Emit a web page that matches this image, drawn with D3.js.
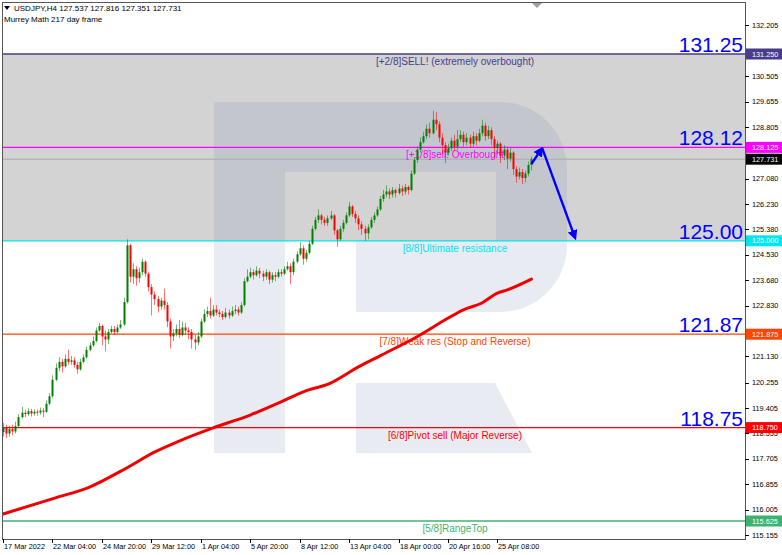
<!DOCTYPE html>
<html><head><meta charset="utf-8">
<script src="https://cdn.jsdelivr.net/npm/d3@7/dist/d3.min.js"></script>
<style>html,body{margin:0;padding:0;background:#fff;}svg{display:block;font-family:"Liberation Sans",Arial,sans-serif;}</style>
</head><body>
<script>
// ---------- DATA ----------
const symbolTitle = "USDJPY,H4  127.537 127.816 127.351 127.731";
const indicatorTitle = "Murrey Math 217 day frame";
const firstOpen = 118.60;
const closes = [118.75,118.55,118.70,118.62,118.80,119.10,119.25,119.20,119.30,119.22,
119.28,119.25,119.32,119.28,119.55,119.80,120.35,120.75,120.95,120.80,
121.05,120.95,121.00,120.85,120.70,120.95,121.10,121.35,121.50,121.65,
122.00,122.15,121.80,121.70,121.95,122.05,121.95,122.10,122.20,122.95,
124.85,123.80,124.05,123.75,123.95,124.30,123.90,123.45,123.20,123.05,
122.80,123.00,122.85,122.30,121.80,121.90,122.05,121.85,122.10,122.00,
121.95,121.70,121.60,121.80,122.30,122.55,122.65,122.50,122.70,122.60,
122.55,122.45,122.60,122.50,122.65,122.70,122.60,122.85,123.65,123.80,
123.95,123.85,124.00,123.90,123.80,123.95,123.70,123.85,123.80,123.95,
123.90,124.05,124.15,123.95,124.30,124.55,124.75,124.40,124.60,124.90,
125.40,125.70,125.85,125.70,125.60,125.75,125.85,125.35,125.05,125.40,
125.60,125.85,126.15,125.90,125.75,125.55,125.40,125.25,125.45,125.70,
125.85,126.05,126.40,126.55,126.65,126.55,126.70,126.60,126.75,126.65,
126.80,126.70,127.25,127.70,128.05,128.30,128.50,128.75,128.60,129.05,
128.90,128.45,128.20,127.95,128.10,128.35,128.15,128.40,128.55,128.30,
128.45,128.25,128.50,128.35,128.60,128.85,128.50,128.70,128.40,128.10,
128.25,127.85,128.05,127.75,127.95,127.40,127.15,127.30,127.10,127.25,
127.537,127.731];
const highs = [118.90,118.85,118.80,118.85,118.95,119.20,119.45,119.35,119.40,119.38,
119.36,119.35,119.42,119.40,119.65,119.90,120.50,120.90,121.10,121.05,
121.20,121.35,121.15,121.10,120.95,121.05,121.20,121.45,121.60,121.80,
122.10,122.25,122.20,122.00,122.05,122.15,122.15,122.20,122.35,123.10,
125.05,124.90,124.25,124.15,124.10,124.40,124.35,123.95,123.55,123.30,
123.15,123.10,123.40,122.95,122.40,122.05,122.20,122.35,122.30,122.25,
122.10,122.05,121.85,121.95,122.40,122.70,122.80,123.10,122.85,122.85,
122.70,122.65,122.75,122.70,122.80,122.85,122.80,122.95,123.75,124.05,
124.10,124.05,124.15,124.10,124.00,124.05,124.00,123.95,123.95,124.05,
124.05,124.15,124.30,124.25,124.40,124.65,124.95,124.85,124.70,125.00,
125.50,125.80,126.05,125.90,125.80,125.85,126.00,125.90,125.40,125.50,
125.70,125.95,126.30,126.20,126.00,125.85,125.65,125.50,125.55,125.80,
125.95,126.15,126.50,126.70,126.85,126.75,126.80,126.75,126.90,126.85,
126.90,126.85,127.35,127.80,128.15,128.45,128.65,128.90,128.95,129.35,
129.30,129.00,128.60,128.30,128.25,128.45,128.55,128.70,128.70,128.65,
128.60,128.55,128.65,128.60,128.75,129.05,128.95,128.85,128.80,128.50,
128.35,128.30,128.20,128.15,128.10,128.00,127.50,127.45,127.40,127.35,
127.65,127.816];
const lows = [118.45,118.40,118.45,118.50,118.55,118.75,119.05,119.10,119.15,119.12,
119.15,119.15,119.18,119.10,119.25,119.50,119.75,120.30,120.65,120.60,
120.75,120.85,120.85,120.75,120.55,120.65,120.90,121.05,121.30,121.45,
121.60,121.95,121.50,121.30,121.55,121.90,121.85,121.90,122.05,122.15,
122.90,123.60,123.55,123.50,123.60,123.85,123.80,123.30,122.50,122.85,
122.60,122.70,122.70,122.10,121.40,121.65,121.80,121.75,121.80,121.85,
121.70,121.40,121.35,121.50,121.75,122.25,122.45,122.40,122.45,122.50,
122.45,122.35,122.40,122.40,122.45,122.55,122.50,122.55,122.80,123.60,
123.75,123.70,123.80,123.75,123.65,123.70,123.55,123.60,123.65,123.75,
123.80,123.85,124.00,123.55,123.85,124.25,124.50,124.20,124.30,124.55,
124.85,125.35,125.60,125.55,125.50,125.50,125.70,125.20,124.80,125.00,
125.30,125.55,125.80,125.80,125.60,125.35,125.20,125.00,125.05,125.40,
125.60,125.80,126.00,126.30,126.45,126.40,126.45,126.45,126.55,126.50,
126.55,126.55,126.65,127.20,127.60,127.95,128.25,128.40,128.45,128.55,
128.70,128.30,127.90,127.60,127.85,128.00,128.00,128.05,128.30,128.15,
128.20,128.10,128.15,128.20,128.30,128.50,128.35,128.40,128.20,127.80,
127.90,127.60,127.70,127.40,127.65,127.20,126.95,127.05,126.90,126.95,
127.15,127.351];
// 217-day moving average, sampled at bar indices
const maBars   = [0,17,28,40,49,57,68,80,90,97,106,115,122,135,143,149,155,160,163,171];
const maValues = [115.86,116.40,116.76,117.40,117.93,118.30,118.74,119.17,119.61,119.94,
120.24,120.78,121.15,121.85,122.35,122.69,122.92,123.25,123.35,123.72];
// Murrey Math levels
const levelValues = [131.25,128.125,125.00,121.875,118.75,115.625];
const levelNames  = ["[+2/8]SELL! (extremely overbought)","[+1/8]sell! Overbought","[8/8]Ultimate resistance",
                     "[7/8]Weak res (Stop and Reverse)","[6/8]Pivot sell (Major Reverse)","[5/8]RangeTop"];
const levelBoxes  = ["131.250","128.125","125.000","121.875","118.750","115.625"];
const levelBig    = ["131.25","128.12","125.00","121.87","118.75",null];
const levelColors = ["#483D8B","#FF00FF","#00E5EE","#FF4500","#FF0000","#3CB371"];
const lastPrice = 127.731;
const yTicks = [132.205,130.505,129.655,128.805,127.080,126.230,125.380,124.530,
                123.680,122.830,121.130,120.255,119.405,118.555,117.705,116.855,116.005,115.155];
const xTickBars = [0,16,32,48,64,80,96,112,128,144,160];
const xTickLabels = ["17 Mar 2022","22 Mar 04:00","24 Mar 20:00","29 Mar 12:00","1 Apr 04:00","5 Apr 20:00",
                     "8 Apr 12:00","13 Apr 04:00","18 Apr 00:00","20 Apr 16:00","25 Apr 08:00"];
// forecast arrow (bar index, price)
const arrowUpBars = [171, 174.5], arrowUpPrices = [127.57, 128.10];
const arrowDownBars = [174.5, 185.2], arrowDownPrices = [128.10, 125.08];

// ---------- DRAW ----------
const W = 782, H = 555;
const L = 2, R = 745, T = 2, B = 539;
const svg = d3.select("body").append("svg").attr("width", W).attr("height", H);
const x = d3.scaleLinear().domain([0, 240]).range([3, 3 + 240 * 3.09]);
const y = d3.scaleLinear().domain([115.625, 131.25]).range([521, 54]);

svg.append("defs").append("clipPath").attr("id","clip")
  .append("rect").attr("x",L).attr("y",T).attr("width",R-L).attr("height",B-T);
const g = svg.append("g").attr("clip-path","url(#clip)");

// overbought zone
g.append("rect").attr("x",L).attr("width",R-L)
  .attr("y",y(levelValues[0])).attr("height",y(levelValues[2])-y(levelValues[0]))
  .attr("fill","#D3D3D3");

// watermark "R"
const wm = "M214,102 H500 A67,67 0 0 1 567,169 V245 A67,67 0 0 1 500,312 H356 V240 H496 V172 H285 V453 H214 Z " +
           "M356,383 H495 L532,453 H356 Z";
g.append("path").attr("d", wm).attr("fill","rgba(110,135,175,0.16)");

// last price line
g.append("line").attr("x1",L).attr("x2",R).attr("y1",y(lastPrice)).attr("y2",y(lastPrice))
  .attr("stroke","#A8A8A8").attr("stroke-width",1);

// level lines
levelValues.forEach((v,i)=>{
  g.append("line").attr("x1",L).attr("x2",R).attr("y1",y(v)).attr("y2",y(v))
    .attr("stroke",levelColors[i]).attr("stroke-width",1.3);
  g.append("text").attr("x",455).attr("y",y(v)+11).attr("text-anchor","middle")
    .attr("font-size",10).attr("fill",levelColors[i]).text(levelNames[i]);
  if (levelBig[i]) g.append("text").attr("x",743).attr("y",y(v)-2).attr("text-anchor","end")
    .attr("font-size",21).attr("fill","#0000FF").text(levelBig[i]);
});

// MA line
const maData = maBars.map((b,i)=>[b,maValues[i]]);
g.append("path").datum(maData)
  .attr("d", d3.line().x(d=>x(d[0])).y(d=>y(d[1])).curve(d3.curveMonotoneX))
  .attr("fill","none").attr("stroke","#F00000").attr("stroke-width",3).attr("stroke-linecap","round");

// candles
const candles = closes.map((c,i)=>({i, o: i===0 ? firstOpen : closes[i-1], h: highs[i], l: lows[i], c}));
const cg = g.append("g");
candles.forEach(d=>{
  const up = d.c >= d.o;
  const col = up ? "#008000" : "#FF0000";
  const cx = Math.round(x(d.i)) + 0.5;
  cg.append("line").attr("x1",cx).attr("x2",cx).attr("y1",y(d.h)).attr("y2",y(d.l))
    .attr("stroke",col).attr("stroke-opacity",0.55).attr("stroke-width",1);
  const top = y(Math.max(d.o,d.c)), bot = y(Math.min(d.o,d.c));
  cg.append("rect").attr("x",cx-1).attr("width",2).attr("y",top).attr("height",Math.max(1,bot-top))
    .attr("fill",col);
});

// forecast arrows
const defs = svg.select("defs");
defs.append("marker").attr("id","ah").attr("viewBox","0 0 10 10").attr("refX",8).attr("refY",5)
  .attr("markerWidth",4.2).attr("markerHeight",4.2).attr("orient","auto").attr("markerUnits","strokeWidth")
  .append("path").attr("d","M0,0 L10,5 L0,10 Z").attr("fill","#0000FF");
const ln = d3.line().x(d=>x(d[0])).y(d=>y(d[1]));
g.append("path").datum(arrowUpBars.map((b,i)=>[b,arrowUpPrices[i]])).attr("d",ln)
  .attr("stroke","#0000FF").attr("stroke-width",2.4).attr("fill","none").attr("marker-end","url(#ah)");
g.append("path").datum(arrowDownBars.map((b,i)=>[b,arrowDownPrices[i]])).attr("d",ln)
  .attr("stroke","#0000FF").attr("stroke-width",2.4).attr("fill","none").attr("marker-end","url(#ah)");

// frame
svg.append("rect").attr("x",L+0.5).attr("y",T+0.5).attr("width",R-L).attr("height",B-T)
  .attr("fill","none").attr("stroke","#555").attr("stroke-width",1);
// shift marker
svg.append("path").attr("d","M532,3 L542,3 L537,8 Z").attr("fill","#A0A0A0");

// header
svg.append("path").attr("d","M4,6 L10,6 L7,10 Z").attr("fill","#000");
svg.append("text").attr("x",14).attr("y",11).attr("font-size",8).attr("fill","#000").text(symbolTitle);
svg.append("text").attr("x",4).attr("y",22).attr("font-size",8).attr("fill","#000").text(indicatorTitle);

// right axis
const ax = svg.append("g");
yTicks.forEach(v=>{
  ax.append("line").attr("x1",R).attr("x2",R+4).attr("y1",Math.round(y(v))+0.5).attr("y2",Math.round(y(v))+0.5).attr("stroke","#000");
  ax.append("text").attr("x",752).attr("y",y(v)+2.5).attr("font-size",7.3).attr("fill","#000").text(v.toFixed(3));
});
// price boxes
levelValues.forEach((v,i)=>{
  ax.append("rect").attr("x",746).attr("y",y(v)-5.5).attr("width",36).attr("height",11).attr("fill",levelColors[i]);
  ax.append("text").attr("x",752).attr("y",y(v)+2.5).attr("font-size",7.3).attr("fill","#fff").text(levelBoxes[i]);
});
ax.append("rect").attr("x",746).attr("y",y(lastPrice)-5.5).attr("width",36).attr("height",11).attr("fill","#000");
ax.append("text").attr("x",752).attr("y",y(lastPrice)+2.5).attr("font-size",7.3).attr("fill","#fff").text(lastPrice.toFixed(3));

// bottom axis
xTickBars.forEach((b,i)=>{
  const tx = Math.round(x(b))+0.5;
  ax.append("line").attr("x1",tx).attr("x2",tx).attr("y1",B).attr("y2",B+4).attr("stroke","#000");
  ax.append("text").attr("x",tx+0.5).attr("y",549).attr("font-size",7.3).attr("fill","#000").text(xTickLabels[i]);
});
</script>
</body></html>
